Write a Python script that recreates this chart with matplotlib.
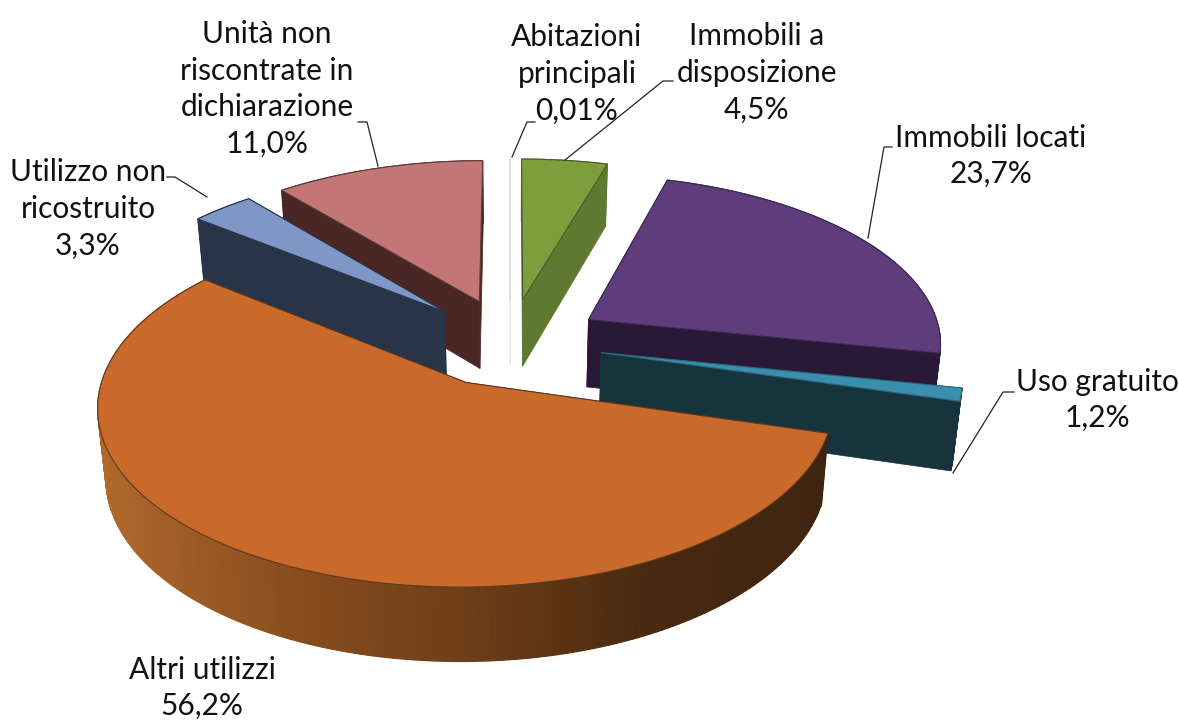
import numpy as np
import matplotlib
matplotlib.use("Agg")
import matplotlib.pyplot as plt
from matplotlib.colors import LinearSegmentedColormap
from matplotlib.patches import Polygon

plt.rcParams['font.family'] = ['Lato', 'DejaVu Sans']

#==================data==================
names = ["Abitazioni\nprincipali", "Immobili a\ndisposizione", "Immobili locati", "Uso gratuito",
         "Altri utilizzi", "Utilizzo non\nricostruito", "Unità non\nriscontrate in\ndichiarazione"]
values = [0.01, 4.5, 23.7, 1.2, 56.2, 3.3, 11.0]
value_labels = ["0,01%", "4,5%", "23,7%", "1,2%", "56,2%", "3,3%", "11,0%"]

top_colors = ["#f4f4f4", "#7d9e3c", "#5f3d7c", "#3a8fae", "#c96a2a", "#7f97c6", "#c27675"]
side_colors = ["#ececec", "#5f7a30", "#2a1838", "#17343c", "#4a2a10", "#2a3448", "#4a2624"]
edge_colors = ["#dddddd", "#4a5a30", "#3a2a50", "#2a6a80", "#5a3a20", "#2a3448", "#5a3a3a"]
draw_order = [0, 1, 6, 5, 2, 3, 4]

label_x = [577, 757, 991, 1097, 202, 88, 267]
label_y = [74, 73, 156, 400, 688, 209, 89]
leaders_x = [[512, 527, 535], [565, 663, 673], [868, 884, 892], [953, 1003, 1014],
             [], [207, 175, 167], [378, 367, 358]]
leaders_y = [[157, 122, 122], [160, 81, 81], [238, 147, 147], [473, 392, 392],
             [], [197, 177, 177], [166, 122, 122]]

#==================pie geometry==================
cx, cy = 510, 342   # centre of the pie before exploding
A, B = 354, 168     # radii of the disk
k = 0.125           # perspective
depth = 68
explode = 0.263

orange_wall = LinearSegmentedColormap.from_list("wall", ["#b0682c", "#8a4e1e", "#6e3e18", "#4a2a10", "#3e2410"])


def project(X, Y, down=False):
    s = 1 + k * Y
    sx = cx + A * X / s
    sy = cy - B * Y / s
    if down:
        sx = cx + (sx - cx) * 0.98
        sy = sy + depth / (1 + 0.07 * Y)
    return sx, sy


def slice_pts(t0, t1, mid):
    ex, ey = explode * np.sin(mid), explode * np.cos(mid)
    t = np.linspace(t0, t1, max(int((t1 - t0) * 60), 2))
    return ex, ey, ex + np.sin(t), ey + np.cos(t)


fig = plt.figure(figsize=(11.79, 7.2), dpi=100)
ax = fig.add_axes([0, 0, 1, 1])
ax.set_xlim(0, 1179)
ax.set_ylim(720, 0)
ax.axis("off")

fracs = np.array(values) / sum(values)
edges = np.concatenate([[0], np.cumsum(fracs)]) * 2 * np.pi

z = 2
for i in draw_order:
    t0, t1 = edges[i], edges[i + 1]
    mid = (t0 + t1) / 2
    ex, ey, X, Y = slice_pts(t0, t1, mid)
    ax_, ay_ = project(ex, ey)
    bx_, by_ = project(ex, ey, True)
    tx, ty = project(X, Y)
    dx, dy = project(X, Y, True)

    # the two cut faces
    for j in [0, -1]:
        ax.add_patch(Polygon([(ax_, ay_), (tx[j], ty[j]), (dx[j], dy[j]), (bx_, by_)],
                             fc=side_colors[i], ec=side_colors[i], lw=0.5, zorder=z))
        z += 1

    # outer wall, small pieces so it can be shaded
    for j in range(len(tx) - 1):
        if i == 4:
            c = orange_wall(np.clip((tx[j] - 100) / 730, 0, 1))
        else:
            c = side_colors[i]
        ax.add_patch(Polygon([(tx[j], ty[j]), (tx[j + 1], ty[j + 1]), (dx[j + 1], dy[j + 1]), (dx[j], dy[j])],
                             fc=c, ec=c, lw=0.8, zorder=z))
        z += 1

    # top face
    ax.add_patch(Polygon(np.column_stack([np.r_[ax_, tx], np.r_[ay_, ty]]),
                         fc=top_colors[i], ec=edge_colors[i], lw=0.8, zorder=z))
    z += 1

#==================labels==================
for i in range(len(names)):
    ax.text(label_x[i], label_y[i], names[i] + "\n" + value_labels[i], ha="center", va="center",
            fontsize=21.5, color="#111111", linespacing=1.37, zorder=z + 1)
    ax.plot(leaders_x[i], leaders_y[i], color="#222222", lw=0.9, zorder=z)

fig.savefig("out.png", dpi=100)
